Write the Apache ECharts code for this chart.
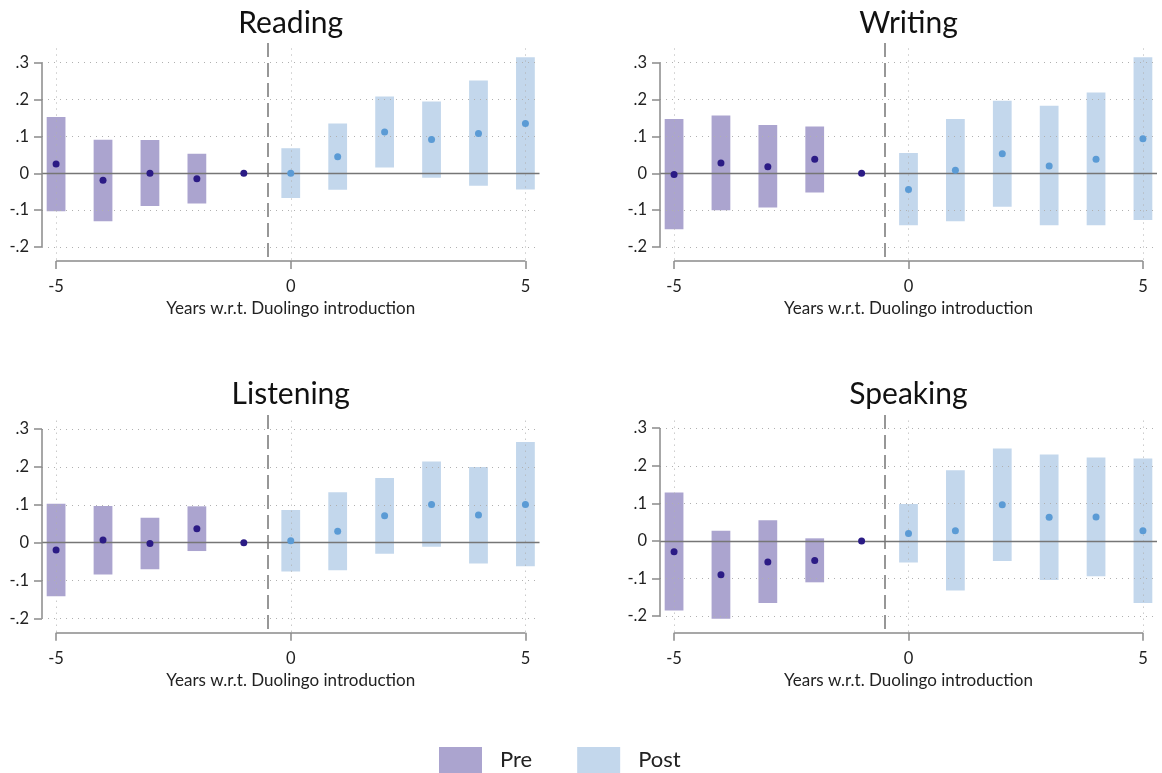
<!DOCTYPE html>
<html><head><meta charset="utf-8">
<script src="https://cdn.jsdelivr.net/npm/echarts@6/dist/echarts.min.js"></script>
<style>html,body{margin:0;padding:0;background:#fff}#c{width:1162px;height:773px}</style>
</head><body><div id="c"></div>
<script>
// ---------- data ----------
const years = [-5, -4, -3, -2, -1, 0, 1, 2, 3, 4, 5];
const panelTitles = ['Reading', 'Writing', 'Listening', 'Speaking'];
const yTicks = [-0.2, -0.1, 0, 0.1, 0.2, 0.3];
const xTicks = [-5, 0, 5];
const xAxisTitle = 'Years w.r.t. Duolingo introduction';
const legendNames = ['Pre', 'Post'];
const eventLine = -0.5;

const readingEst = [0.025, -0.019, 0.000, -0.015, 0, 0.000, 0.045, 0.112, 0.092, 0.108, 0.135];
const readingLo  = [-0.103, -0.130, -0.089, -0.082, null, -0.067, -0.045, 0.016, -0.012, -0.034, -0.044];
const readingHi  = [0.153, 0.091, 0.090, 0.053, null, 0.068, 0.135, 0.208, 0.195, 0.252, 0.315];

const writingEst = [-0.003, 0.028, 0.018, 0.038, 0, -0.044, 0.008, 0.053, 0.020, 0.038, 0.094];
const writingLo  = [-0.152, -0.100, -0.093, -0.052, null, -0.141, -0.130, -0.091, -0.141, -0.141, -0.127];
const writingHi  = [0.147, 0.157, 0.131, 0.127, null, 0.055, 0.147, 0.197, 0.183, 0.219, 0.315];

const listeningEst = [-0.019, 0.007, -0.002, 0.037, 0, 0.005, 0.030, 0.071, 0.101, 0.073, 0.101];
const listeningLo  = [-0.141, -0.084, -0.070, -0.022, null, -0.076, -0.073, -0.029, -0.011, -0.055, -0.062];
const listeningHi  = [0.103, 0.097, 0.066, 0.096, null, 0.086, 0.133, 0.171, 0.214, 0.200, 0.266];

const speakingEst = [-0.029, -0.090, -0.056, -0.052, 0, 0.020, 0.027, 0.096, 0.063, 0.064, 0.027];
const speakingLo  = [-0.185, -0.207, -0.165, -0.110, null, -0.057, -0.132, -0.053, -0.104, -0.094, -0.165];
const speakingHi  = [0.129, 0.027, 0.055, 0.007, null, 0.098, 0.188, 0.246, 0.230, 0.222, 0.219];

const panelEst = [readingEst, writingEst, listeningEst, speakingEst];
const panelLo  = [readingLo, writingLo, listeningLo, speakingLo];
const panelHi  = [readingHi, writingHi, listeningHi, speakingHi];

// ---------- layout & style ----------
const layouts = [
  {left: 42,  top: 43,  width: 497.5, height: 218,   yMin: -0.238,  yMax: 0.3535, titleY: 23},
  {left: 660, top: 43,  width: 497,   height: 218,   yMin: -0.238,  yMax: 0.3535, titleY: 23},
  {left: 42,  top: 415, width: 497.5, height: 217.7, yMin: -0.2375, yMax: 0.337,  titleY: 394},
  {left: 660, top: 415, width: 497,   height: 217.7, yMin: -0.244,  yMax: 0.335,  titleY: 394}
];
const X0 = -5.3, X1 = 5.3, HALF = 0.2;
const preBar = '#aba4cf', postBar = '#c3d7ec';
const preDot = '#2b1b85', postDot = '#5b9bd5';
const axisGray = '#8a8a8a';
const FONT = 'Lato';

function fmtY(v) {
  const r = Math.round(v * 10) / 10;
  if (r === 0) return '0';
  return (r < 0 ? '-' : '') + String(Math.abs(r)).replace(/^0/, '');
}

function renderBar(params, api) {
  const x = api.value(0), lo = api.value(1), hi = api.value(2);
  const p1 = api.coord([x - HALF, hi]);
  const p2 = api.coord([x + HALF, lo]);
  return {
    type: 'rect',
    shape: {x: p1[0], y: p1[1], width: p2[0] - p1[0], height: p2[1] - p1[1]},
    style: {fill: api.visual('color')}
  };
}

function decorations(L) {
  const grid = {type: [1, 5], color: '#b0b0b0', width: 1};
  const axis = {type: 'solid', color: axisGray, width: 1.5};
  const items = [];
  yTicks.filter(v => v !== 0).forEach(v => items.push([{coord: [X0, v], lineStyle: grid}, {coord: [X1, v]}]));
  xTicks.forEach(v => items.push([{coord: [v, L.yMax - 0.015], lineStyle: grid}, {coord: [v, L.yMin]}]));
  items.push([{coord: [X0, 0], lineStyle: {type: 'solid', color: '#767676', width: 1.3}}, {coord: [X1, 0]}]);
  items.push([{coord: [eventLine, L.yMax], lineStyle: {type: [14, 6], color: '#767676', width: 1.5}}, {coord: [eventLine, L.yMin]}]);
  items.push([{coord: [X0, yTicks[yTicks.length - 1]], lineStyle: axis}, {coord: [X0, yTicks[0]]}]);
  items.push([{coord: [xTicks[0], L.yMin], lineStyle: axis}, {coord: [xTicks[xTicks.length - 1], L.yMin]}]);
  return {
    symbol: ['none', 'none'], silent: true, animation: false,
    label: {show: false}, emphasis: {disabled: true},
    z: 5, data: items
  };
}

const grids = [], xAxes = [], yAxes = [], series = [], titleTexts = [];
layouts.forEach((L, i) => {
  grids.push({left: L.left, top: L.top, width: L.width, height: L.height});
  xAxes.push({
    type: 'value', gridIndex: i, min: X0, max: X1,
    axisLine: {show: false, onZero: false},
    axisTick: {show: true, customValues: xTicks, length: 8, lineStyle: {color: axisGray, width: 1.5}},
    axisLabel: {customValues: xTicks, margin: 17, fontSize: 16.5, color: '#222', fontFamily: FONT,
                formatter: v => String(v)},
    splitLine: {show: false},
    name: xAxisTitle, nameLocation: 'middle', nameGap: 39,
    nameTextStyle: {fontSize: 17, color: '#222', fontFamily: FONT}
  });
  yAxes.push({
    type: 'value', gridIndex: i, min: L.yMin, max: L.yMax,
    axisLine: {show: false, onZero: false},
    axisTick: {show: true, customValues: yTicks, length: 8, lineStyle: {color: axisGray, width: 1.5}},
    axisLabel: {customValues: yTicks, margin: 13, fontSize: 16.5, color: '#222', fontFamily: FONT, formatter: fmtY},
    splitLine: {show: false}
  });
  titleTexts.push({
    type: 'text', x: L.left + L.width / 2, y: L.titleY, silent: true,
    style: {text: panelTitles[i], textAlign: 'center', textVerticalAlign: 'middle',
            font: '30px ' + FONT, fill: '#111'}
  });
  const est = panelEst[i], lo = panelLo[i], hi = panelHi[i];
  const preBars = [], postBars = [], preDots = [], postDots = [];
  years.forEach((y, k) => {
    if (lo[k] !== null && hi[k] !== null) (y < 0 ? preBars : postBars).push([y, lo[k], hi[k]]);
    (y < 0 ? preDots : postDots).push([y, est[k]]);
  });
  series.push({
    type: 'custom', name: legendNames[0], xAxisIndex: i, yAxisIndex: i,
    renderItem: renderBar, encode: {x: 0, y: [1, 2]}, data: preBars,
    itemStyle: {color: preBar}, z: 2, silent: true,
    markLine: decorations(L)
  });
  series.push({
    type: 'custom', name: legendNames[1], xAxisIndex: i, yAxisIndex: i,
    renderItem: renderBar, encode: {x: 0, y: [1, 2]}, data: postBars,
    itemStyle: {color: postBar}, z: 2, silent: true
  });
  series.push({
    type: 'scatter', name: 'Pre estimate', xAxisIndex: i, yAxisIndex: i,
    data: preDots, symbolSize: 7, itemStyle: {color: preDot, opacity: 1}, z: 10, silent: true
  });
  series.push({
    type: 'scatter', name: 'Post estimate', xAxisIndex: i, yAxisIndex: i,
    data: postDots, symbolSize: 7, itemStyle: {color: postDot, opacity: 1}, z: 10, silent: true
  });
});

const chart = echarts.init(document.getElementById('c'), null, {renderer: 'canvas'});
chart.setOption({
  animation: false,
  backgroundColor: '#fff',
  textStyle: {fontFamily: FONT},
  graphic: titleTexts,
  grid: grids,
  xAxis: xAxes,
  yAxis: yAxes,
  legend: {
    data: legendNames, left: 439, top: 747, padding: 0,
    itemWidth: 43, itemHeight: 26, itemGap: 45, icon: 'rect',
    textStyle: {fontSize: 22, color: '#222', fontFamily: FONT, padding: [0, 0, 0, 13]},
    selectedMode: false
  },
  series: series
});
</script>
</body></html>
